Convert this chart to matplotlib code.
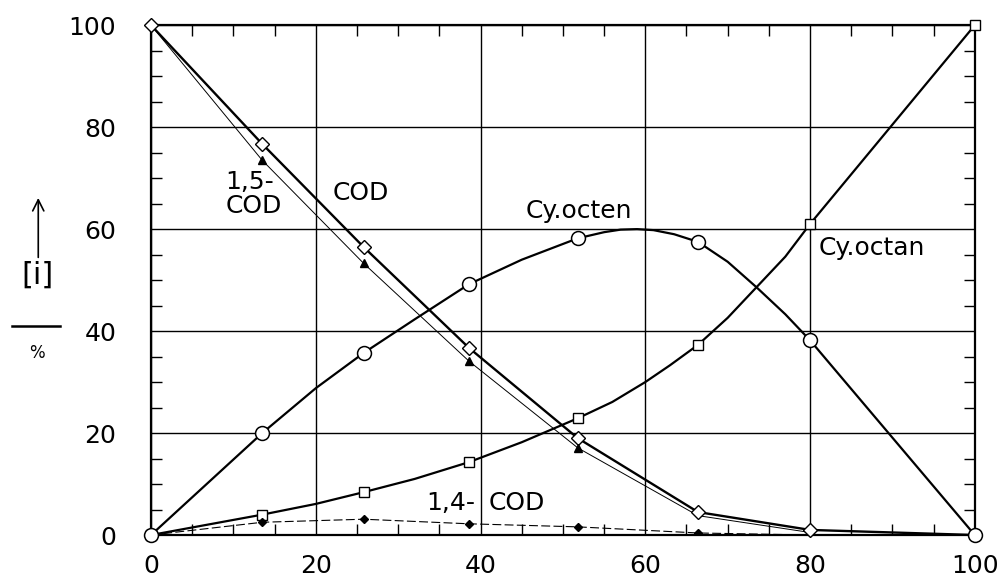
import matplotlib
matplotlib.use("Agg")
import matplotlib.pyplot as plt
from matplotlib.lines import Line2D

plt.rcParams['font.family'] = ['DejaVu Sans']

# reaction progress (x) at the sampling points
X_PTS = [0, 13.5, 25.8, 38.6, 51.8, 66.4, 80, 100]

# COD (open diamonds)
COD_Y = [100, 76.7, 56.5, 36.7, 19.0, 4.5, 1.0, 0]
# 1,5-COD (filled triangles, thin line)
COD15_X = [0, 13.5, 25.8, 38.6, 51.8, 66.4, 80]
COD15_Y = [100, 73.5, 53.3, 34.1, 17.1, 3.8, 0.5]
COD15_MX = [13.5, 25.8, 38.6, 51.8]
COD15_MY = [73.5, 53.3, 34.1, 17.1]
# Cy.octen (open circles) and its drawn curve
OCTEN_Y = [0, 20.0, 35.7, 49.2, 58.2, 57.5, 38.2, 0]
OCTEN_CX = [0, 13.5, 20, 25.8, 32, 38.6, 45, 51.8, 55, 57, 59, 61, 63.5, 66.4, 70, 73.5, 77, 80, 100]
OCTEN_CY = [0, 20.0, 28.8, 35.7, 42.3, 49.2, 54.0, 58.2, 59.4, 59.9, 60.0, 59.8, 59.0, 57.5, 53.6, 48.6, 43.3, 38.2, 0]
# Cy.octan (open squares) and its drawn curve
OCTAN_Y = [0, 4.0, 8.4, 14.3, 22.9, 37.3, 61.0, 100]
OCTAN_CX = [0, 13.5, 20, 25.8, 32, 38.6, 45, 51.8, 56, 60, 63, 66.4, 70, 73.5, 77, 80, 100]
OCTAN_CY = [0, 4.0, 6.1, 8.4, 11.0, 14.3, 18.2, 22.9, 26.1, 30.0, 33.3, 37.3, 42.6, 48.6, 54.6, 61.0, 100]
# 1,4-COD (small filled diamonds, dashed)
COD14_X = [0, 13.5, 25.8, 38.6, 51.8, 66.4, 80]
COD14_Y = [0, 2.5, 3.1, 2.2, 1.6, 0.4, 0]

fig = plt.figure(figsize=(10.07, 5.86), dpi=100)
ax = fig.add_axes([0.150, 0.087, 0.818, 0.870])

ax.plot(X_PTS, COD_Y, color='black', lw=1.7, marker='D', ms=7, mfc='white', mec='black', mew=1.0, clip_on=False, zorder=4)
ax.plot(COD15_X, COD15_Y, color='black', lw=0.7, zorder=3)
ax.plot(COD15_MX, COD15_MY, ls='none', marker='^', ms=6, color='black', zorder=5)
ax.plot(OCTEN_CX, OCTEN_CY, color='black', lw=1.6, zorder=3)
ax.plot(X_PTS, OCTEN_Y, ls='none', marker='o', ms=10, mfc='white', mec='black', mew=1.1, clip_on=False, zorder=5)
ax.plot(OCTAN_CX, OCTAN_CY, color='black', lw=1.6, zorder=3)
ax.plot(X_PTS, OCTAN_Y, ls='none', marker='s', ms=7, mfc='white', mec='black', mew=1.0, clip_on=False, zorder=4)
ax.plot(COD14_X, COD14_Y, color='black', lw=0.8, ls=(0, (8, 3)), zorder=3)
ax.plot(COD14_X[1:-1], COD14_Y[1:-1], ls='none', marker='D', ms=4.5, color='black', zorder=5)

ax.set_xlim(0, 100)
ax.set_ylim(0, 100)
ax.set_xticks(range(0, 101, 20))
ax.set_yticks(range(0, 101, 20))
ax.set_xticks(range(0, 101, 5), minor=True)
ax.set_yticks(range(0, 101, 5), minor=True)
ax.grid(True, which='major', color='black', lw=1.0)
ax.tick_params(which='both', direction='in', top=True, right=True, labelsize=18)
ax.tick_params(which='major', length=0)
ax.tick_params(axis='x', which='major', pad=14)
ax.tick_params(axis='y', which='major', pad=25)
ax.tick_params(which='minor', length=8, width=1.0)
for s in ax.spines.values():
    s.set_linewidth(1.6)

ax.text(9, 71.5, "1,5-\nCOD", fontsize=18, ha='left', va='top', linespacing=0.95)
ax.text(22, 67, "COD", fontsize=18, ha='left', va='center')
ax.text(45.5, 63.5, "Cy.octen", fontsize=18, ha='left', va='center')
ax.text(81, 56.3, "Cy.octan", fontsize=18, ha='left', va='center')
ax.text(39.3, 6.3, "1,4-", fontsize=18, ha='right', va='center')
ax.text(41, 6.3, "COD", fontsize=18, ha='left', va='center')

# y-axis label: arrow, [i] over %
ax.annotate("", xy=(0.038, 0.667), xytext=(0.038, 0.556), xycoords='figure fraction',
            arrowprops=dict(arrowstyle='->', color='black', lw=1.2, mutation_scale=20))
fig.text(0.037, 0.530, "[i]", fontsize=22, ha='center', va='center')
fig.add_artist(Line2D([0.012, 0.060], [0.444, 0.444], color='black', lw=1.8))
fig.text(0.037, 0.398, "%", fontsize=12, ha='center', va='center')

fig.savefig("out.png", dpi=100)
